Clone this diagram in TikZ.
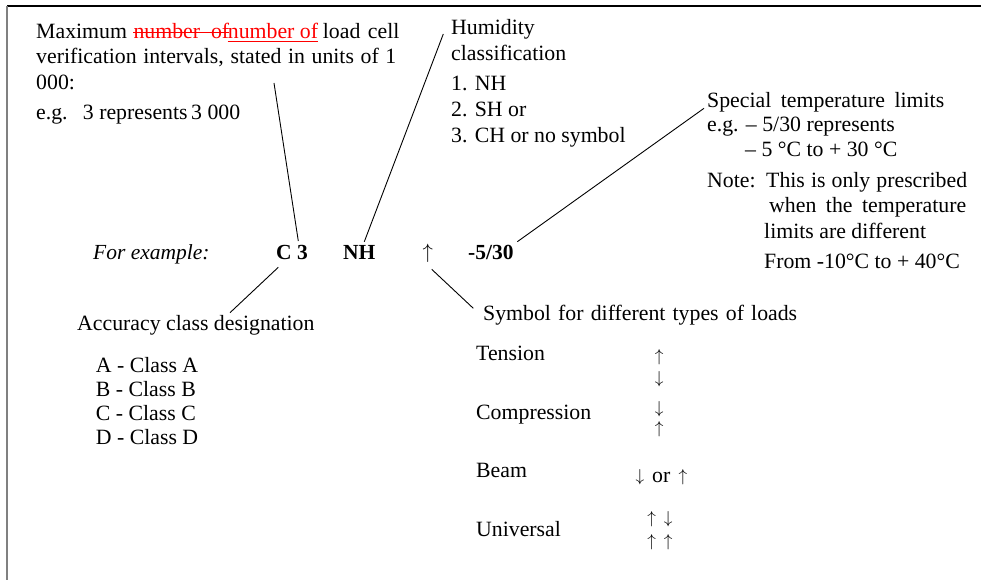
\documentclass[tikz,border=0pt]{standalone}
\usepackage{fontspec}
\setmainfont{Liberation Serif}
\newcommand\dfont{\fontsize{21.8pt}{24pt}\selectfont}
\newcommand\afont{\fontsize{18.5pt}{22pt}\selectfont}
\tikzset{
  txt/.style={anchor=base west, inner sep=0pt, font=\dfont},
  arr/.style={anchor=base, inner sep=0pt, font=\afont},
  lead/.style={draw=black, line width=0.9pt},
}
\begin{document}
\begin{tikzpicture}[x=1pt,y=-1pt]
\useasboundingbox (0,0) rectangle (981,580);
% frame
\draw[black, line width=1.4pt] (7,6) -- (981,6);
\draw[gray, line width=2pt] (7,6) -- (7,580);

% top-left block
\node[txt] (w1) at (36,39) {Maximum};
\node[txt, text=red] (w2) at (133.3,39) {number\ \ of};
\node[txt, text=red] (w3) at (227.7,39) {number of};
\node[txt] (w4) at (322.7,39) {load};
\node[txt] (w5) at (367.7,39) {cell};
\draw[red, line width=1pt] ([yshift=6.5pt]w2.base west) -- ([yshift=6.5pt]w2.base east);
\draw[red, line width=1pt] ([yshift=-3pt]w3.base west) -- ([yshift=-3pt]w3.base east);
\node[txt] (l2) at (36,64) {\makebox[360pt][s]{verification intervals, stated in units of 1}};
\node[txt] (l3) at (36,90) {000:};
\node[txt] (eg1) at (36,120) {e.g.};
\node[txt] (eg2) at (82.7,120) {3 represents};
\node[txt] (eg3) at (191,120) {3 000};

% humidity
\node[txt] (h1) at (451,35) {Humidity};
\node[txt] (h2) at (451,60.7) {classification};
\node[txt] (h3) at (451,90.7) {1. NH};
\node[txt] (h4) at (451,116.7) {2. SH or};
\node[txt] (h5) at (451,142.7) {3. CH or no symbol};

% temperature
\node[txt] (t1) at (707,107.3) {\makebox[237pt][s]{Special temperature limits}};
\node[txt] (t2) at (707,131.7) {e.g. – 5/30 represents};
\node[txt] (t3) at (745,156.7) {– 5 °C to + 30 °C};
\node[txt] (t4) at (707,187.3) {Note:};
\node[txt] (t5) at (766,187.3) {\makebox[201pt][s]{This is only prescribed}};
\node[txt] (t6) at (769,212.3) {\makebox[197pt][s]{when the temperature}};
\node[txt] (t7) at (764,238.3) {limits are different};
\node[txt] (t8) at (764,268.3) {From -10°C to + 40°C};

% example row
\node[txt, font=\fontsize{21.5pt}{24pt}\selectfont\itshape] (ex) at (93,259.3) {For example:};
\node[txt, font=\fontsize{21.5pt}{24pt}\selectfont\bfseries] (c3) at (276,259.3) {C 3};
\node[txt, font=\fontsize{21.5pt}{24pt}\selectfont\bfseries] (nh) at (343,259.3) {NH};
\node[arr, font=\dfont] (ar) at (427.7,258.6) {$\uparrow$};
\node[txt, font=\fontsize{21.5pt}{24pt}\selectfont\bfseries] (tmp) at (468,259.3) {-5/30};

% accuracy
\node[txt] (acc) at (77,330) {Accuracy class designation};
\node[txt] (a1) at (95.7,372.3) {A - Class A};
\node[txt] (a2) at (95.7,396) {B - Class B};
\node[txt] (a3) at (95.7,420) {C - Class C};
\node[txt] (a4) at (95.7,444.5) {D - Class D};

% load types
\node[txt] (sym) at (483,320.5) {\makebox[314pt][s]{Symbol for different types of loads}};
\node[txt] (ten) at (476,360.7) {Tension};
\node[arr] (tena) at (659.3,361.4) {$\uparrow$};
\node[arr] (tenb) at (659.3,383.4) {$\downarrow$};
\node[txt] (com) at (476,419.3) {Compression};
\node[arr] (coma) at (659.3,413.4) {$\downarrow$};
\node[arr] (comb) at (659.3,433.4) {$\uparrow$};
\node[txt] (bea) at (476,477.3) {Beam};
\node[arr] (beaa) at (640,481.4) {$\downarrow$};
\node[txt] (beab) at (652,482) {or};
\node[arr] (beac) at (683,481.4) {$\uparrow$};
\node[txt] (uni) at (476,536.7) {Universal};
\node[arr] (unia) at (651.7,523.4) {$\uparrow$};
\node[arr] (unib) at (668.3,523.4) {$\downarrow$};
\node[arr] (unic) at (651.7,546.4) {$\uparrow$};
\node[arr] (unid) at (668.3,546.4) {$\uparrow$};

% leader lines
\coordinate (p1a) at (274,83);   \coordinate (p1b) at (298.3,241);
\coordinate (p2a) at (443.3,34); \coordinate (p2b) at (364.3,241.7);
\coordinate (p3a) at (704,108.3); \coordinate (p3b) at (517.3,241.7);
\coordinate (p4a) at (278.3,267.3); \coordinate (p4b) at (230,312.7);
\coordinate (p5a) at (431.7,269.3); \coordinate (p5b) at (473.3,308.3);
\draw[lead] (p1a) -- (p1b);
\draw[lead] (p2a) -- (p2b);
\draw[lead] (p3a) -- (p3b);
\draw[lead] (p4a) -- (p4b);
\draw[lead] (p5a) -- (p5b);
\end{tikzpicture}
\end{document}
